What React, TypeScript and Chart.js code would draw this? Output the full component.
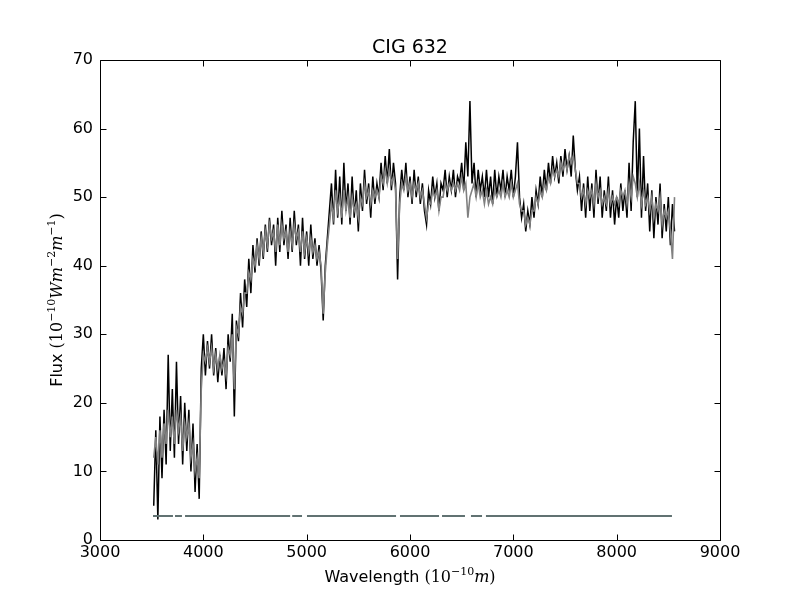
import React, { useEffect, useRef } from "react";
import { Chart, registerables } from "chart.js";

Chart.register(...registerables);

const TITLE = "CIG 632";

// Observed spectrum (black), sampled every 20 Å starting at 3520 Å
const OBS_START = 3520;
const OBS_STEP = 20;
const OBS_FLUX = [
  5, 16, 3, 18, 9, 19, 11, 27, 13, 22,
  12, 26, 14, 21, 11, 20, 13, 19, 10, 17,
  7, 14, 6, 25, 30, 24, 29, 25, 30, 24,
  28, 23, 27, 24, 28, 22, 30, 26, 33, 18,
  32, 29, 36, 31, 38, 34, 41, 36, 43, 39,
  44, 40, 45, 41, 46, 42, 47, 43, 46, 40,
  47, 42, 48, 43, 46, 41, 47, 42, 48, 43,
  46, 40, 47, 41, 45, 40, 46, 41, 44, 40,
  43, 39, 32, 40, 44, 48, 52, 46, 54, 47,
  53, 46, 55, 48, 52, 46, 53, 47, 51, 45,
  52, 48, 54, 49, 52, 47, 53, 49, 52, 50,
  55, 51, 56, 52, 57, 51, 55, 52, 38, 50,
  54, 51, 55, 50, 53, 49, 54, 50, 53, 49,
  52, 48, 46, 51, 49, 53, 50, 52, 48, 52,
  51, 54, 50, 53, 51, 54, 50, 53, 52, 55,
  51, 58, 53, 64, 52, 55, 50, 54, 51, 53,
  50, 54, 50, 53, 49, 54, 50, 53, 51, 54,
  50, 53, 51, 54, 50, 53, 58, 50, 47, 49,
  45, 48, 46, 50, 47, 51, 49, 53, 50, 54,
  51, 55, 52, 56, 53, 55, 52, 56, 53, 57,
  54, 56, 53, 59, 54, 51, 53, 48, 52, 47,
  53, 48, 52, 47, 54, 49, 53, 47, 51, 48,
  53, 47, 51, 46, 50, 47, 52, 48, 51, 47,
  55, 48, 58, 64, 50, 60, 47, 56, 48, 52,
  45, 51, 44, 50, 46, 52, 44, 49, 45, 50,
  43, 49, 45,
];

// Fitted model (gray), sampled every 20 Å starting at 3520 Å
const MODEL_START = 3520;
const MODEL_STEP = 20;
const MODEL_FLUX = [
  12, 15, 11, 16, 12, 17, 14, 19, 15, 18,
  14, 19, 16, 18, 13, 17, 15, 17, 12, 14,
  10, 12, 9, 22, 27, 26, 28, 26, 28, 25,
  27, 25, 27, 25, 26, 24, 28, 27, 30, 22,
  31, 30, 34, 33, 36, 36, 39, 38, 41, 40,
  43, 41, 44, 42, 45, 43, 46, 44, 45, 42,
  46, 43, 46, 44, 45, 42, 45, 43, 46, 44,
  45, 42, 45, 42, 44, 42, 44, 42, 43, 41,
  42, 40, 33, 39, 43, 46, 49, 47, 51, 48,
  50, 47, 51, 48, 50, 47, 50, 48, 49, 47,
  50, 49, 52, 50, 51, 49, 51, 50, 51, 50,
  53, 52, 54, 52, 54, 52, 53, 51, 41, 49,
  52, 51, 53, 51, 52, 50, 52, 51, 52, 50,
  51, 49, 47, 49, 49, 51, 50, 51, 48, 50,
  50, 52, 51, 52, 51, 52, 51, 52, 51, 53,
  51, 52, 47, 50, 51, 52, 50, 52, 50, 51,
  49, 51, 49, 50, 49, 51, 50, 51, 50, 52,
  50, 51, 50, 52, 50, 51, 52, 49, 48, 48,
  46, 47, 46, 48, 48, 50, 49, 51, 50, 52,
  51, 53, 52, 54, 53, 54, 53, 55, 54, 55,
  54, 56, 55, 56, 54, 52, 52, 50, 51, 49,
  51, 50, 51, 49, 52, 50, 51, 49, 50, 49,
  51, 49, 50, 49, 50, 49, 51, 50, 51, 49,
  52, 50, 53, 52, 50, 52, 49, 51, 49, 50,
  48, 50, 47, 49, 48, 50, 46, 48, 47, 48,
  45, 41, 50,
];

// Mask (good-pixel) segments drawn at a constant flux level
const MASK_LEVEL = 3.5;
const MASK_STARTS = [3513, 3726, 3823, 4860, 5003, 5903, 6310, 6590, 6735];
const MASK_ENDS = [3706, 3793, 4840, 4955, 5865, 6281, 6532, 6697, 8535];

const X_MIN = 3000;
const X_MAX = 9000;
const X_STEP = 1000;
const Y_MIN = 0;
const Y_MAX = 70;
const Y_STEP = 10;

type Part = { t: string; font: string; dy?: number };

function drawParts(ctx: CanvasRenderingContext2D, parts: Part[], cx: number, baseline: number) {
  let total = 0;
  const widths = parts.map((p) => {
    ctx.font = p.font;
    const w = ctx.measureText(p.t).width;
    total += w;
    return w;
  });
  let x = cx - total / 2;
  ctx.textAlign = "left";
  ctx.textBaseline = "alphabetic";
  parts.forEach((p, i) => {
    ctx.font = p.font;
    ctx.fillText(p.t, x, baseline - (p.dy || 0));
    x += widths[i];
  });
}

const SANS = "'DejaVu Sans', sans-serif";
const SERIF = "'DejaVu Serif', serif";
const SUP = 11;
const SUP_DY = 7;

const X_LABEL: Part[] = [
  { t: "Wavelength ", font: `16px ${SANS}` },
  { t: "(10", font: `16px ${SERIF}` },
  { t: "\u221210", font: `${SUP}px ${SERIF}`, dy: SUP_DY },
  { t: "m", font: `italic 16px ${SERIF}` },
  { t: ")", font: `16px ${SERIF}` },
];

const Y_LABEL: Part[] = [
  { t: "Flux ", font: `16px ${SANS}` },
  { t: "(10", font: `16px ${SERIF}` },
  { t: "\u221210", font: `${SUP}px ${SERIF}`, dy: SUP_DY },
  { t: "Wm", font: `italic 16px ${SERIF}` },
  { t: "\u22122", font: `${SUP}px ${SERIF}`, dy: SUP_DY },
  { t: "m", font: `italic 16px ${SERIF}` },
  { t: "\u22121", font: `${SUP}px ${SERIF}`, dy: SUP_DY },
  { t: ")", font: `16px ${SERIF}` },
];

const framePlugin = {
  id: "mplFrame",
  afterDraw(chart: any) {
    const { ctx, chartArea: a, scales } = chart;
    const xs = scales.x;
    const ys = scales.y;
    ctx.save();
    ctx.strokeStyle = "#000";
    ctx.lineWidth = 1;
    const L = Math.round(a.left) + 0.5;
    const R = Math.round(a.right) + 0.5;
    const T = Math.round(a.top) + 0.5;
    const B = Math.round(a.bottom) + 0.5;
    ctx.beginPath();
    ctx.rect(L, T, R - L, B - T);
    ctx.stroke();
    const tl = 6;
    ctx.beginPath();
    xs.ticks.forEach((t: any) => {
      const px = Math.round(xs.getPixelForValue(t.value)) + 0.5;
      ctx.moveTo(px, B);
      ctx.lineTo(px, B - tl);
      ctx.moveTo(px, T);
      ctx.lineTo(px, T + tl);
    });
    ys.ticks.forEach((t: any) => {
      const py = Math.round(ys.getPixelForValue(t.value)) + 0.5;
      ctx.moveTo(L, py);
      ctx.lineTo(L + tl, py);
      ctx.moveTo(R, py);
      ctx.lineTo(R - tl, py);
    });
    ctx.stroke();

    ctx.fillStyle = "#000";
    drawParts(ctx, [{ t: TITLE, font: `19px ${SANS}` }], (a.left + a.right) / 2, 53);
    drawParts(ctx, X_LABEL, (a.left + a.right) / 2, 582);
    ctx.translate(62, (a.top + a.bottom) / 2);
    ctx.rotate(-Math.PI / 2);
    drawParts(ctx, Y_LABEL, 0, 0);
    ctx.restore();
  },
};

export default function App() {
  const ref = useRef<HTMLCanvasElement | null>(null);

  useEffect(() => {
    document.body.style.margin = "0";
    const canvas = ref.current;
    if (!canvas) return;

    const obs = OBS_FLUX.map((v, i) => ({ x: OBS_START + i * OBS_STEP, y: v }));
    const model = MODEL_FLUX.map((v, i) => ({ x: MODEL_START + i * MODEL_STEP, y: v }));
    const mask: { x: number; y: number | null }[] = [];
    MASK_STARTS.forEach((s, i) => {
      mask.push({ x: s, y: MASK_LEVEL });
      mask.push({ x: MASK_ENDS[i], y: MASK_LEVEL });
      if (i < MASK_STARTS.length - 1) {
        mask.push({ x: (MASK_ENDS[i] + MASK_STARTS[i + 1]) / 2, y: null });
      }
    });

    const chart = new Chart(canvas, {
      type: "line",
      data: {
        datasets: [
          {
            label: "mask",
            data: mask as any,
            borderColor: "#617272",
            borderWidth: 2,
            pointRadius: 0,
            spanGaps: false,
            tension: 0,
          },
          {
            label: "model",
            data: model,
            borderColor: "#808080",
            borderWidth: 1.6,
            pointRadius: 0,
            tension: 0,
          },
          {
            label: "observed",
            data: obs,
            borderColor: "#000000",
            borderWidth: 1.5,
            pointRadius: 0,
            tension: 0,
          },
        ],
      },
      options: {
        animation: false,
        responsive: false,
        devicePixelRatio: 1,
        layout: { padding: { top: 60, right: 80, left: 0, bottom: 0 } },
        plugins: {
          legend: { display: false },
          title: { display: false },
          tooltip: { enabled: false },
        },
        scales: {
          x: {
            type: "linear",
            min: X_MIN,
            max: X_MAX,
            grid: { display: false, drawTicks: false },
            border: { display: false },
            ticks: {
              stepSize: X_STEP,
              color: "#000",
              padding: 3,
              maxRotation: 0,
              font: { family: "'DejaVu Sans', sans-serif", size: 16 },
              callback: (v: any) => String(v),
            },
            afterFit: (s: any) => {
              s.height = 60;
            },
          },
          y: {
            type: "linear",
            min: Y_MIN,
            max: Y_MAX,
            grid: { display: false, drawTicks: false },
            border: { display: false },
            ticks: {
              stepSize: Y_STEP,
              color: "#000",
              padding: 7,
              font: { family: "'DejaVu Sans', sans-serif", size: 16 },
              callback: (v: any) => String(v),
            },
            afterFit: (s: any) => {
              s.width = 100;
            },
          },
        },
      },
      plugins: [framePlugin],
    });
    return () => chart.destroy();
  }, []);

  return (
    <div style={{ position: "fixed", left: 0, top: 0, width: 800, height: 600, background: "#fff" }}>
      <canvas ref={ref} width={800} height={600} style={{ display: "block" }} />
    </div>
  );
}
